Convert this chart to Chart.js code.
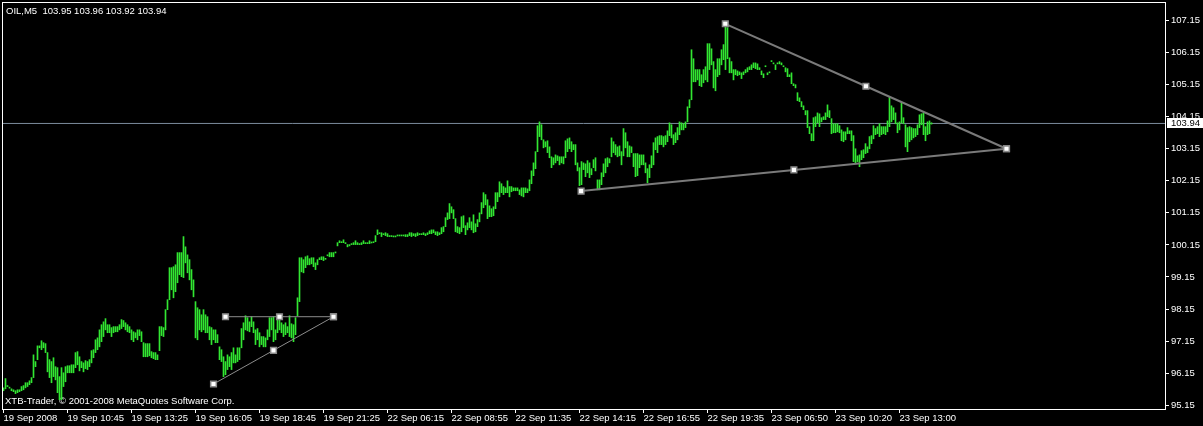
<!DOCTYPE html>
<html>
<head>
<meta charset="utf-8">
<title>OIL,M5</title>
<script src="https://cdn.jsdelivr.net/npm/chart.js@4.4.1/dist/chart.umd.min.js"></script>
<style>
	html, body { margin: 0; padding: 0; background: #000; }
	#wrap { width: 1203px; height: 426px; }
</style>
</head>
<body>
<div id="wrap"><canvas id="chart" width="1203" height="426"></canvas></div>
<script>
/* ==========================================================================
 Data (OIL, M5 bars)
 ========================================================================== */

const symbol = 'OIL,M5';
const lastBar = [103.95, 103.96, 103.92, 103.94]; // open, high, low, close
const copyright = 'XTB-Trader, \u00a9 2001-2008 MetaQuotes Software Corp.';

const timeLabels = [
	'19 Sep 2008', '19 Sep 10:45', '19 Sep 13:25', '19 Sep 16:05', '19 Sep 18:45',
	'19 Sep 21:25', '22 Sep 06:15', '22 Sep 08:55', '22 Sep 11:35', '22 Sep 14:15',
	'22 Sep 16:55', '22 Sep 19:35', '23 Sep 06:50', '23 Sep 10:20', '23 Sep 13:00',
];
const barsPerLabel = 32;

const priceTicks = [95.15, 96.15, 97.15, 98.15, 99.15, 100.15, 101.15, 102.15, 103.15, 104.15, 105.15, 106.15, 107.15];

const highs = [
	95.69, 95.98, 95.76, 95.70, 95.66, 95.63, 95.60, 95.63, 95.63, 95.73,
	95.76, 95.85, 95.85, 95.91, 96.01, 96.72, 96.51, 97.00, 97.00, 97.16,
	97.10, 97.07, 96.79, 96.57, 96.51, 96.63, 96.35, 96.32, 96.04, 96.32,
	96.16, 96.35, 96.38, 96.38, 96.41, 96.41, 96.79, 96.82, 96.66, 96.51,
	96.47, 96.54, 96.51, 96.57, 96.85, 96.88, 97.19, 97.25, 97.50, 97.66,
	97.75, 97.85, 97.66, 97.66, 97.57, 97.60, 97.60, 97.60, 97.66, 97.82,
	97.79, 97.72, 97.66, 97.60, 97.50, 97.44, 97.41, 97.50, 97.50, 97.44,
	97.10, 97.07, 97.07, 97.07, 96.82, 96.79, 96.79, 96.72, 97.60, 97.60,
	97.57, 98.13, 98.44, 99.44, 99.44, 99.47, 99.53, 99.91, 99.91, 99.91,
	100.41, 100.09, 99.84, 99.69, 99.38, 99.06, 98.38, 98.19, 98.13, 97.97,
	98.13, 97.97, 97.91, 97.60, 97.57, 97.50, 97.50, 97.35, 96.97, 96.88,
	96.66, 96.51, 96.72, 96.66, 96.79, 96.94, 96.72, 96.94, 96.94, 97.54,
	97.72, 97.94, 97.88, 97.75, 97.91, 97.75, 97.50, 97.54, 97.41, 97.29,
	97.29, 97.25, 97.50, 97.88, 97.88, 97.91, 97.50, 97.82, 97.97, 97.72,
	97.66, 97.72, 97.60, 97.94, 97.69, 97.66, 97.88, 98.50, 99.75, 99.75,
	99.69, 99.78, 99.81, 99.72, 99.75, 99.75, 99.59, 99.69, 99.75, 99.78,
	99.78, 99.73, 99.84, 99.91, 99.91, 99.91, 99.92, 100.22, 100.28, 100.25,
	100.31, 100.22, 100.16, 100.16, 100.19, 100.22, 100.28, 100.22, 100.19, 100.22,
	100.28, 100.22, 100.22, 100.28, 100.23, 100.25, 100.44, 100.62, 100.53, 100.53,
	100.50, 100.53, 100.50, 100.44, 100.44, 100.42, 100.42, 100.45, 100.45, 100.45,
	100.45, 100.47, 100.47, 100.53, 100.53, 100.50, 100.50, 100.53, 100.50, 100.50,
	100.53, 100.50, 100.53, 100.59, 100.62, 100.62, 100.56, 100.56, 100.53, 100.69,
	100.72, 101.00, 101.15, 101.44, 101.34, 101.25, 100.97, 100.72, 100.69, 101.03,
	101.06, 100.75, 100.84, 101.00, 100.87, 101.09, 100.81, 100.94, 101.15, 101.47,
	101.78, 101.72, 101.56, 101.37, 101.28, 101.34, 101.78, 101.78, 102.12, 102.06,
	101.97, 101.93, 102.15, 101.97, 101.97, 101.93, 101.93, 101.93, 101.87, 101.93,
	101.93, 101.93, 101.90, 102.18, 102.46, 102.71, 103.06, 103.87, 103.99, 103.90,
	103.43, 103.37, 103.40, 103.21, 102.90, 102.87, 102.96, 102.93, 102.90, 102.90,
	102.90, 103.40, 103.46, 103.49, 103.37, 103.28, 103.28, 102.71, 102.56, 102.75,
	102.71, 102.68, 102.78, 102.71, 102.53, 102.81, 102.87, 102.18, 102.18, 102.40,
	102.68, 102.84, 102.87, 102.84, 103.49, 103.37, 103.28, 103.21, 103.24, 103.06,
	103.78, 103.65, 103.37, 103.24, 103.21, 103.00, 103.00, 103.00, 102.96, 102.96,
	102.96, 102.71, 102.53, 102.65, 102.93, 103.34, 103.49, 103.53, 103.56, 103.56,
	103.53, 103.56, 103.71, 103.96, 103.90, 103.59, 103.65, 103.81, 103.99, 103.96,
	103.93, 103.99, 104.46, 104.68, 106.24, 105.96, 105.62, 105.62, 105.62, 105.46,
	105.62, 105.71, 106.43, 106.43, 106.27, 105.87, 105.62, 105.96, 105.96, 106.24,
	106.40, 107.02, 106.93, 105.99, 105.87, 105.62, 105.62, 105.58, 105.55, 105.52,
	105.55, 105.62, 105.68, 105.71, 105.77, 105.83, 105.83, 105.80, 105.68, 105.58,
	105.49, 105.74, 105.52, 105.55, 105.90, 105.83, 105.77, 105.83, 105.87, 105.83,
	105.74, 105.68, 105.65, 105.46, 105.52, 105.18, 105.15, 104.90, 104.74, 104.62,
	104.49, 104.34, 104.34, 103.84, 103.62, 104.12, 104.15, 104.27, 104.24, 104.12,
	104.15, 104.27, 104.52, 104.34, 104.09, 103.93, 103.93, 103.93, 103.87, 103.74,
	103.68, 103.68, 103.81, 103.71, 103.71, 103.56, 103.15, 102.93, 102.96, 103.09,
	103.12, 103.31, 103.21, 103.53, 103.56, 103.87, 103.78, 103.84, 103.93, 103.84,
	103.84, 103.84, 104.02, 104.77, 104.49, 104.43, 104.27, 103.96, 103.99, 104.59,
	104.12, 103.90, 103.81, 103.84, 103.81, 103.78, 103.78, 103.90, 104.21, 104.24,
	104.27, 103.84, 103.99, 104.02, 103.96,
];

const lows = [
	95.60, 95.66, 95.73, 95.68, 95.60, 95.57, 95.51, 95.54, 95.57, 95.60,
	95.63, 95.69, 95.73, 95.79, 95.85, 96.01, 96.35, 96.57, 96.94, 96.88,
	96.94, 96.79, 96.19, 96.01, 95.85, 96.04, 95.94, 95.54, 95.32, 95.32,
	95.73, 95.88, 96.16, 96.16, 96.16, 96.16, 96.32, 96.41, 96.22, 96.32,
	96.19, 96.29, 96.26, 96.35, 96.47, 96.63, 96.79, 96.88, 96.97, 97.13,
	97.29, 97.50, 97.41, 97.41, 97.29, 97.41, 97.44, 97.44, 97.50, 97.54,
	97.60, 97.50, 97.44, 97.41, 97.19, 97.13, 97.25, 97.19, 97.32, 97.13,
	96.66, 96.66, 96.66, 96.69, 96.63, 96.60, 96.57, 96.57, 96.85, 97.32,
	97.29, 97.50, 98.13, 98.44, 98.75, 98.50, 98.69, 98.97, 99.22, 99.16,
	99.13, 99.59, 99.28, 99.06, 98.75, 98.53, 97.25, 97.19, 97.50, 97.44,
	97.50, 97.41, 97.41, 97.19, 97.04, 97.19, 97.10, 97.10, 96.57, 96.51,
	96.04, 96.10, 96.26, 96.35, 96.26, 96.47, 96.47, 96.51, 96.57, 96.94,
	97.19, 97.50, 97.47, 97.44, 97.60, 97.41, 97.04, 97.19, 96.97, 97.04,
	96.97, 96.97, 97.19, 97.29, 97.50, 97.13, 97.19, 97.41, 97.50, 97.41,
	97.29, 97.35, 97.41, 97.29, 97.25, 97.13, 97.35, 97.94, 98.38, 99.31,
	99.28, 99.44, 99.53, 99.53, 99.56, 99.47, 99.38, 99.53, 99.69, 99.69,
	99.66, 99.70, 99.81, 99.78, 99.78, 99.78, 99.90, 100.12, 100.22, 100.22,
	100.22, 100.19, 100.09, 100.12, 100.16, 100.16, 100.16, 100.16, 100.16, 100.16,
	100.19, 100.19, 100.19, 100.19, 100.21, 100.22, 100.25, 100.47, 100.50, 100.41,
	100.47, 100.44, 100.41, 100.41, 100.41, 100.40, 100.40, 100.43, 100.43, 100.43,
	100.43, 100.41, 100.41, 100.44, 100.41, 100.44, 100.41, 100.44, 100.47, 100.47,
	100.47, 100.44, 100.47, 100.50, 100.50, 100.53, 100.47, 100.44, 100.47, 100.50,
	100.56, 100.72, 100.94, 100.97, 101.15, 100.97, 100.56, 100.53, 100.50, 100.56,
	100.69, 100.47, 100.62, 100.69, 100.62, 100.53, 100.56, 100.72, 100.87, 101.12,
	101.31, 101.40, 100.97, 101.03, 101.03, 101.06, 101.28, 101.50, 101.65, 101.78,
	101.72, 101.78, 101.78, 101.65, 101.81, 101.84, 101.84, 101.84, 101.72, 101.68,
	101.65, 101.78, 101.78, 101.84, 102.06, 102.31, 102.53, 103.06, 103.53, 103.43,
	103.18, 103.21, 103.03, 102.87, 102.56, 102.65, 102.71, 102.78, 102.65, 102.71,
	102.68, 102.87, 103.06, 103.15, 103.06, 103.12, 102.65, 102.46, 102.00, 102.03,
	102.50, 102.28, 102.40, 102.25, 102.34, 102.56, 102.46, 101.87, 101.87, 102.03,
	102.28, 102.40, 102.59, 102.71, 102.90, 103.03, 102.96, 102.90, 102.93, 102.65,
	102.93, 103.18, 102.90, 102.90, 103.03, 102.59, 102.28, 102.31, 102.56, 102.65,
	102.65, 102.40, 102.09, 102.25, 102.56, 102.65, 103.12, 103.03, 103.28, 103.28,
	103.21, 103.28, 103.37, 103.56, 103.49, 103.28, 103.34, 103.43, 103.59, 103.74,
	103.74, 103.81, 103.99, 104.43, 104.68, 105.24, 105.24, 105.30, 105.12, 105.09,
	105.21, 105.30, 105.24, 105.62, 105.77, 105.05, 104.96, 105.40, 105.46, 105.77,
	105.93, 105.62, 105.96, 105.52, 105.52, 105.30, 105.46, 105.43, 105.46, 105.34,
	105.46, 105.52, 105.55, 105.62, 105.62, 105.68, 105.65, 105.62, 105.62, 105.46,
	105.37, 105.71, 105.46, 105.52, 105.87, 105.80, 105.62, 105.80, 105.80, 105.77,
	105.71, 105.55, 105.40, 105.40, 105.18, 105.12, 105.05, 104.65, 104.62, 104.46,
	104.37, 104.21, 103.81, 103.62, 103.40, 103.40, 103.84, 103.96, 103.84, 103.99,
	104.06, 104.06, 104.15, 104.12, 103.62, 103.65, 103.65, 103.68, 103.65, 103.40,
	103.37, 103.43, 103.62, 103.62, 103.40, 102.75, 102.71, 102.75, 102.59, 102.81,
	102.87, 103.00, 103.03, 103.15, 103.31, 103.46, 103.59, 103.62, 103.53, 103.59,
	103.62, 103.59, 103.68, 103.84, 103.99, 104.06, 103.93, 103.65, 103.74, 103.96,
	103.93, 103.21, 103.06, 103.37, 103.43, 103.49, 103.53, 103.59, 103.81, 103.90,
	103.59, 103.40, 103.59, 103.62, 103.92,
];

// Trend line objects: [bar index, price] anchor, middle, anchor
const bigUpperLine = [[360.9, 107.05], [431.2, 105.10], [501.5, 103.15]];
const bigLowerLine = [[288.8, 101.83], [395.2, 102.49], [501.5, 103.15]];
const smallTopLine = [[111.0, 97.91], [138.0, 97.91], [165.0, 97.91]];
const smallLowLine = [[105.0, 95.81], [135.0, 96.86], [165.0, 97.91]];

/* ==========================================================================
 Setup
 ========================================================================== */

const FONT = "'Liberation Sans', Arial, sans-serif";
const FONT_SIZE = 9.5;
const BAR_COLOR = '#32e632';
const X_MIN = -0.75;
const X_MAX = 580.75;
const lastClose = lastBar[3];

const toPoints = line => line.map(([x, y]) => ({x, y}));

const trendStyle = (width, color) => ({
	type: 'line',
	borderColor: color,
	borderWidth: width,
	pointStyle: 'rect',
	pointRadius: 4,
	pointBackgroundColor: '#ffffff',
	pointBorderColor: '#8a8a8a',
	pointBorderWidth: 1.5,
	order: 0,
});

// No extra room for edge labels: the plot frame sits at fixed pixels
const noPadding = scale => {
	scale.paddingLeft = 0;
	scale.paddingRight = 0;
	scale.paddingTop = 0;
	scale.paddingBottom = 0;
};

const data = {
	datasets: [
		{
			type: 'bar',
			data: highs.map((h, i) => ({x: i, y: [lows[i], h]})),
			backgroundColor: BAR_COLOR,
			borderWidth: 0,
			barThickness: 1,
			minBarLength: 1,
			order: 1,
		},
		{
			type: 'line',
			data: [{x: X_MIN, y: lastClose}, {x: X_MAX, y: lastClose}],
			borderColor: '#7b8b9c',
			borderWidth: 1,
			pointRadius: 0,
			order: 2,
		},
		{...trendStyle(2, '#7a7a7a'), data: toPoints(bigUpperLine)},
		{...trendStyle(2, '#7a7a7a'), data: toPoints(bigLowerLine)},
		{...trendStyle(1, '#8c8c8c'), data: toPoints(smallTopLine)},
		{...trendStyle(1, '#8c8c8c'), data: toPoints(smallLowLine)},
	],
};

/* ==========================================================================
 Terminal decorations (frame, header, copyright, price label)
 ========================================================================== */

const terminalPlugin = {
	id: 'terminal',
	beforeDraw(chart) {
		const {ctx, width, height} = chart;
		ctx.save();
		ctx.fillStyle = '#000';
		ctx.fillRect(0, 0, width, height);
		ctx.restore();
	},
	beforeDatasetsDraw(chart) {
		const {ctx, chartArea: a} = chart;
		ctx.save();
		ctx.font = FONT_SIZE + 'px ' + FONT;
		ctx.fillStyle = '#fff';
		ctx.textBaseline = 'middle';
		ctx.fillText(symbol + '  ' + lastBar.map(v => v.toFixed(2)).join(' '), a.left + 4, 11);
		ctx.fillText(copyright, a.left + 3, 401);
		ctx.restore();
	},
	afterDraw(chart) {
		const {ctx, chartArea: a, scales: {y}} = chart;
		ctx.save();
		ctx.strokeStyle = '#fff';
		ctx.lineWidth = 1;
		ctx.strokeRect(a.left + 0.5, a.top + 0.5, a.right - a.left, a.bottom - a.top);

		// Current price box on the axis
		const py = Math.round(y.getPixelForValue(lastClose));
		ctx.fillStyle = '#fff';
		ctx.fillRect(a.right + 2, py - 5, chart.width - a.right - 2, 10);
		ctx.fillStyle = '#000';
		ctx.font = FONT_SIZE + 'px ' + FONT;
		ctx.textBaseline = 'middle';
		ctx.fillText(lastClose.toFixed(2), a.right + 6, py + 0.5);
		ctx.restore();
	}
};

/* ==========================================================================
 Config
 ========================================================================== */

Chart.defaults.color = '#fff';
Chart.defaults.font.family = FONT;
Chart.defaults.font.size = FONT_SIZE;

const config = {
	type: 'bar',
	data: data,
	options: {
		responsive: false,
		devicePixelRatio: 1,
		animation: false,
		layout: {
			autoPadding: false,
			padding: {left: 2, top: 2, right: 0, bottom: 0},
		},
		scales: {
			x: {
				type: 'linear',
				min: X_MIN,
				max: X_MAX,
				offset: false,
				afterFit(scale) {
					scale.height = 17;
					noPadding(scale);
				},
				afterBuildTicks(scale) {
					scale.ticks = timeLabels.map((t, i) => ({value: i * barsPerLabel}));
				},
				ticks: {
					color: '#fff',
					align: 'start',
					autoSkip: false,
					maxRotation: 0,
					padding: 0,
					callback: (v, i) => timeLabels[i],
				},
				grid: {
					offset: false,
					drawOnChartArea: false,
					drawTicks: true,
					tickLength: 4,
					color: '#fff',
				},
				border: {
					color: '#fff',
				},
			},
			y: {
				type: 'linear',
				position: 'right',
				min: 95.03,
				max: 107.73,
				afterFit(scale) {
					scale.width = 38;
					noPadding(scale);
				},
				afterBuildTicks(scale) {
					scale.ticks = priceTicks.map(v => ({value: v}));
				},
				ticks: {
					color: '#fff',
					padding: 2,
					callback: v => v.toFixed(2),
				},
				grid: {
					drawOnChartArea: false,
					drawTicks: true,
					tickLength: 4,
					color: '#fff',
				},
				border: {
					color: '#fff',
				},
			},
		},
		plugins: {
			legend: {display: false},
			tooltip: {enabled: false},
		},
	},
	plugins: [terminalPlugin],
};

/* ==========================================================================
 Render
 ========================================================================== */

const myChart = new Chart(document.getElementById('chart'), config);
</script>
</body>
</html>
